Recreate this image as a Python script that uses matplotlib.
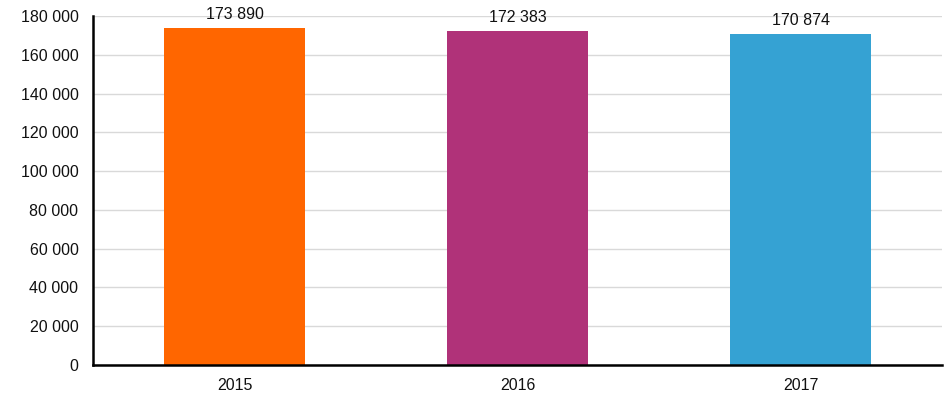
import numpy as np
from matplotlib import pyplot as plt
from matplotlib.ticker import FuncFormatter

plt.rcParams['font.family'] = ['Liberation Sans', 'DejaVu Sans']

years = ["2015", "2016", "2017"]
values = [173890, 172383, 170874]
colors = ["#FF6600", "#B03279", "#35A2D3"]

fig = plt.figure(figsize=(9.45, 3.95), dpi=100)
ax = fig.add_axes([0.0984, 0.0759, 0.8986, 0.8836])

x = np.arange(len(years))
bars = ax.bar(x, values, width=0.5, color=colors, zorder=3)

for xi, v in zip(x, values):
    ax.annotate(f"{v:,}".replace(",", " "), (xi, v), xytext=(0, 4),
                textcoords="offset points", ha="center", va="bottom",
                fontsize=11.5, color="#111111", zorder=4)

ax.set_xlim(-0.5, 2.5)
ax.set_ylim(0, 180000)
ax.set_yticks(np.arange(0, 180001, 20000))
ax.yaxis.set_major_formatter(FuncFormatter(lambda v, p: f"{int(v):,}".replace(",", " ")))
ax.set_xticks(x)
ax.set_xticklabels(years)
ax.tick_params(axis="both", length=0, labelsize=11.5, colors="#111111")
ax.tick_params(axis="y", pad=10.5)
ax.tick_params(axis="x", pad=9)

ax.grid(axis="y", color="#D9D9D9", linewidth=1, zorder=0)
for s in ["top", "right"]:
    ax.spines[s].set_visible(False)
ax.spines["left"].set_linewidth(1.8)
ax.spines["bottom"].set_linewidth(1.8)
ax.spines["left"].set_zorder(5)
ax.spines["bottom"].set_zorder(5)

fig.savefig("out.png", dpi=100)
